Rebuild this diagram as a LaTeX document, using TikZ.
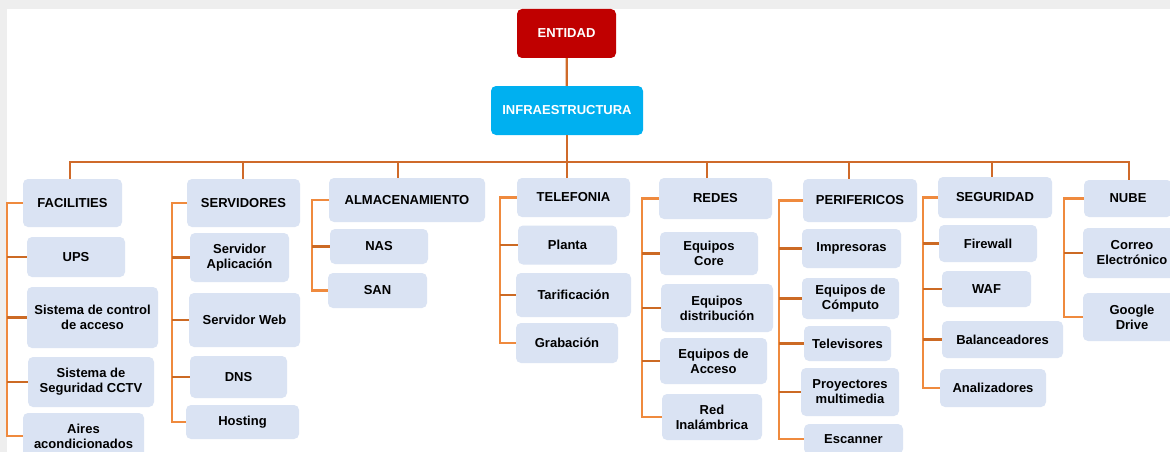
\documentclass[tikz,border=0pt]{standalone}
\usepackage{fontspec}
\setmainfont{Liberation Sans}
\definecolor{boxfill}{HTML}{DAE3F3}
\definecolor{entred}{HTML}{C00000}
\definecolor{infblue}{HTML}{00B0F0}
\definecolor{busorange}{HTML}{CF6A2A}
\definecolor{brkorange}{HTML}{EF8A3E}
\definecolor{brkdark}{HTML}{CC6A24}
\definecolor{bggray}{HTML}{EEEEEE}
\tikzset{
  box/.style={rectangle, rounded corners=5pt, fill=boxfill, text=black,
    font=\bfseries\fontsize{13}{15}\selectfont, align=center, inner sep=0pt},
  topbox/.style={box, text=white},
  busline/.style={draw=busorange, line width=2.2pt},
  brkline/.style={draw=brkorange, line width=2.2pt},
  brkbranch/.style={draw=brkdark, line width=2.2pt},
}
\begin{document}
\begin{tikzpicture}[x=1pt,y=-1pt]
\useasboundingbox (0,0) rectangle (1170,452);
\clip (0,0) rectangle (1170,452);
% page background
\fill[bggray] (0,0) rectangle (1170,452);
\fill[white] (7,9) rectangle (1170,452);

% top levels
\node[topbox, fill=entred, minimum width=99pt, minimum height=49pt] (ent) at (566.5,33.5) {ENTIDAD};
\node[topbox, fill=infblue, minimum width=152pt, minimum height=49pt] (inf) at (567,110.5) {INFRAESTRUCTURA};

% FACILITIES
\node[box, minimum width=99pt, minimum height=48pt] (fac) at (72.5,203) {FACILITIES};
\node[box, minimum width=98pt, minimum height=40pt] (ups) at (76,257) {UPS};
\node[box, minimum width=131pt, minimum height=61pt] (ctrl) at (92.5,317.5) {Sistema de control\\de acceso};
\node[box, minimum width=126pt, minimum height=50pt] (cctv) at (91,382) {Sistema de\\Seguridad CCTV};
\node[box, minimum width=121pt, minimum height=46pt] (aires) at (83.5,436) {Aires\\acondicionados};

% SERVIDORES
\node[box, minimum width=113pt, minimum height=48pt] (srv) at (243.5,203) {SERVIDORES};
\node[box, minimum width=99pt, minimum height=49pt] (sapp) at (239.5,257.5) {Servidor\\Aplicación};
\node[box, minimum width=111pt, minimum height=54pt] (sweb) at (244.5,320) {Servidor Web};
\node[box, minimum width=97pt, minimum height=42pt] (dns) at (238.5,377) {DNS};
\node[box, minimum width=113pt, minimum height=34pt] (host) at (242.5,422) {Hosting};

% ALMACENAMIENTO
\node[box, minimum width=156pt, minimum height=44pt] (alm) at (407,200) {ALMACENAMIENTO};
\node[box, minimum width=98pt, minimum height=35pt] (nas) at (379,246.5) {NAS};
\node[box, minimum width=99pt, minimum height=35pt] (san) at (377.5,290.5) {SAN};

% TELEFONIA
\node[box, minimum width=113pt, minimum height=39pt] (tel) at (573.5,197.5) {TELEFONIA};
\node[box, minimum width=99pt, minimum height=39pt] (plan) at (567.5,245) {Planta};
\node[box, minimum width=115pt, minimum height=44pt] (tarif) at (573.5,295) {Tarificación};
\node[box, minimum width=102pt, minimum height=40pt] (grab) at (567,343) {Grabación};

% REDES
\node[box, minimum width=113pt, minimum height=41pt] (red) at (715.5,198.5) {REDES};
\node[box, minimum width=98pt, minimum height=43pt] (core) at (709,253.5) {Equipos\\Core};
\node[box, minimum width=112pt, minimum height=48pt] (dist) at (717,308) {Equipos\\distribución};
\node[box, minimum width=107pt, minimum height=46pt] (acc) at (713.5,361) {Equipos de\\Acceso};
\node[box, minimum width=100pt, minimum height=46pt] (inal) at (712,417) {Red\\Inalámbrica};

% PERIFERICOS
\node[box, minimum width=114pt, minimum height=43pt] (per) at (860,200.5) {PERIFERICOS};
\node[box, minimum width=99pt, minimum height=39pt] (imp) at (851.5,248.5) {Impresoras};
\node[box, minimum width=97pt, minimum height=41pt] (comp) at (850.5,298.5) {Equipos de\\Cómputo};
\node[box, minimum width=87pt, minimum height=35pt] (tv) at (847.5,343.5) {Televisores};
\node[box, minimum width=98pt, minimum height=48pt] (proy) at (850,392) {Proyectores\\multimedia};
\node[box, minimum width=99pt, minimum height=30pt] (esc) at (853.5,439) {Escanner};

% SEGURIDAD
\node[box, minimum width=114pt, minimum height=41pt] (seg) at (995,197.5) {SEGURIDAD};
\node[box, minimum width=98pt, minimum height=37pt] (fw) at (988,243.5) {Firewall};
\node[box, minimum width=89pt, minimum height=36pt] (waf) at (986.5,289) {WAF};
\node[box, minimum width=121pt, minimum height=37pt] (bal) at (1002.5,339.5) {Balanceadores};
\node[box, minimum width=106pt, minimum height=38pt] (anl) at (993,388) {Analizadores};

% NUBE
\node[box, minimum width=88pt, minimum height=37pt] (nube) at (1128,198.5) {NUBE};
\node[box, minimum width=98pt, minimum height=50pt] (mail) at (1132,253) {Correo\\Electrónico};
\node[box, minimum width=98pt, minimum height=48pt] (gdrv) at (1132,317) {Google\\Drive};

% trunk and bus
\draw[busline] (ent) -- (inf);
\draw[busline] (inf.south) -- (inf.south |- tel.north);
\coordinate (dfac) at (70,162);
\coordinate (dsrv) at (243,162);
\coordinate (dalm) at (398,162);
\coordinate (dred) at (707,162);
\coordinate (dper) at (849,162);
\coordinate (dseg) at (992,162);
\coordinate (dnub) at (1129,162);
\draw[busline] (dfac |- fac.north) -- (dfac) -- (dnub) -- (dnub |- nube.north);
\foreach \d/\b in {dsrv/srv, dalm/alm, dred/red, dper/per, dseg/seg}
  \draw[busline] (\d) -- (\d |- \b.north);

% bracket rails
\coordinate (xfac) at (7,0);
\coordinate (xsrv) at (172,0);
\coordinate (xalm) at (312,0);
\coordinate (xtel) at (500,0);
\coordinate (xred) at (642,0);
\coordinate (xper) at (779,0);
\coordinate (xseg) at (923,0);
\coordinate (xnub) at (1064,0);

\foreach \x/\h/\l in {xfac/fac/aires, xsrv/srv/host, xalm/alm/san, xtel/tel/grab,
    xred/red/inal, xper/per/esc, xseg/seg/anl, xnub/nube/gdrv}
  \draw[brkline] (\h.west) -- (\h.west -| \x) -- (\l.west -| \x) -- (\l.west);

\foreach \x/\n in {xfac/ups, xfac/ctrl, xfac/cctv,
    xsrv/sapp, xsrv/sweb, xsrv/dns,
    xalm/nas,
    xtel/plan, xtel/tarif,
    xred/core, xred/dist, xred/acc,
    xper/imp, xper/comp, xper/tv, xper/proy,
    xseg/fw, xseg/waf, xseg/bal,
    xnub/mail}
  \draw[brkbranch] (\n.west -| \x) -- (\n.west);
\end{tikzpicture}
\end{document}
